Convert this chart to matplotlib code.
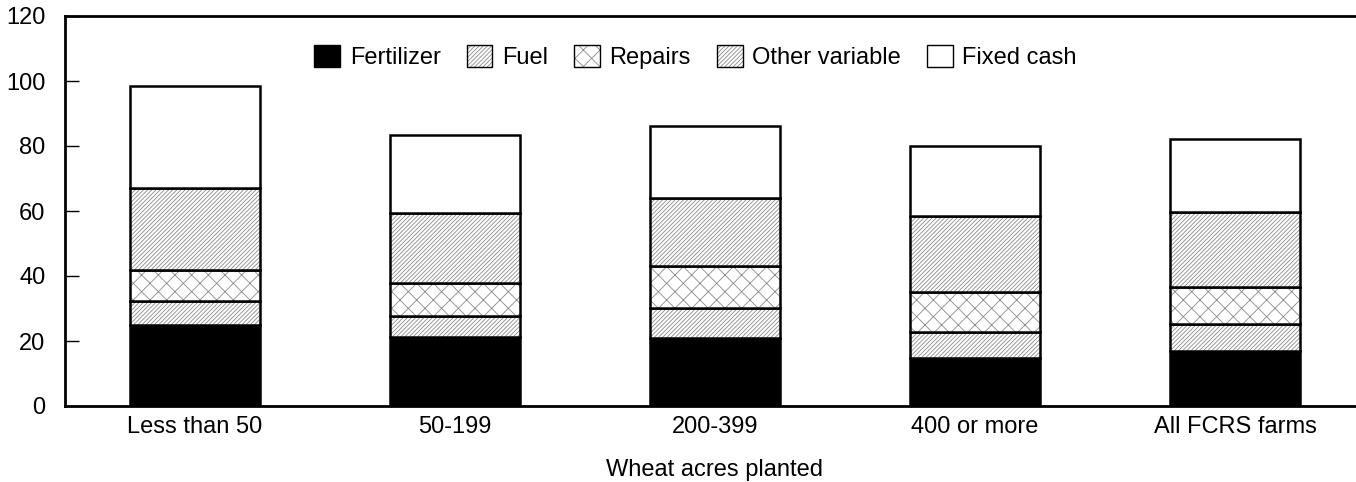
import matplotlib.pyplot as plt
from matplotlib.patches import Patch
from matplotlib.legend_handler import HandlerTuple

plt.rcParams['font.family'] = ['Liberation Sans', 'DejaVu Sans']
plt.rcParams['hatch.linewidth'] = 0.6

# Wheat acres planted groups
categories = ['Less than 50', '50-199', '200-399', '400 or more', 'All FCRS farms']
fertilizer = [25.0, 21.3, 20.8, 14.7, 17.0]
fuel = [7.4, 6.4, 9.5, 8.2, 8.1]
repairs = [9.4, 10.2, 12.9, 12.1, 11.6]
other_variable = [25.4, 21.6, 20.7, 23.5, 23.0]
fixed_cash = [31.4, 23.9, 22.3, 21.5, 22.5]

series = [
    ('Fertilizer', fertilizer, 'black', ''),
    ('Fuel', fuel, 'white', '////////'),
    ('Repairs', repairs, 'white', 'xx'),
    ('Other variable', other_variable, 'white', '////////'),
    ('Fixed cash', fixed_cash, 'white', ''),
]

fig = plt.figure(figsize=(13.56, 4.82), dpi=100)
ax = fig.add_axes([65 / 1356, 76 / 482, 1300 / 1356, 390 / 482])

x = list(range(len(categories)))
width = 0.5
bottom = [0.0] * len(categories)
handles = []
for name, vals, fc, hatch in series:
    # hatch drawn in gray, outline drawn separately in black
    ax.bar(x, vals, width, bottom=bottom, color=fc, edgecolor='#8a8a8a',
           hatch=hatch, linewidth=0)
    ax.bar(x, vals, width, bottom=bottom, fill=False, edgecolor='black',
           linewidth=1.8)
    h1 = Patch(facecolor=fc, edgecolor='#8a8a8a', hatch=hatch, linewidth=0)
    h2 = Patch(fill=False, edgecolor='black', linewidth=1.0)
    handles.append((h1, h2))
    bottom = [b + v for b, v in zip(bottom, vals)]

ax.set_xlim(-0.5, 4.5)
ax.set_ylim(0, 120)
ax.set_yticks(range(0, 121, 20))
ax.set_xticks(x)
ax.set_xticklabels(categories)
ax.tick_params(axis='y', direction='in', length=10, width=1, labelsize=17, pad=14)
ax.tick_params(axis='x', length=0, labelsize=17, pad=7)
ax.spines['right'].set_visible(False)
for s in ['left', 'bottom', 'top']:
    ax.spines[s].set_linewidth(2)
ax.set_xlabel('Wheat acres planted', fontsize=17, labelpad=15)

ax.legend(handles, [s[0] for s in series],
          handler_map={tuple: HandlerTuple(ndivide=1, pad=0)},
          loc='center', bbox_to_anchor=(0.485, 0.895), ncol=5, frameon=False,
          fontsize=17, handlelength=1.1, handleheight=1.1, handletextpad=0.4,
          columnspacing=1.1)

fig.savefig('out.png', dpi=100)
